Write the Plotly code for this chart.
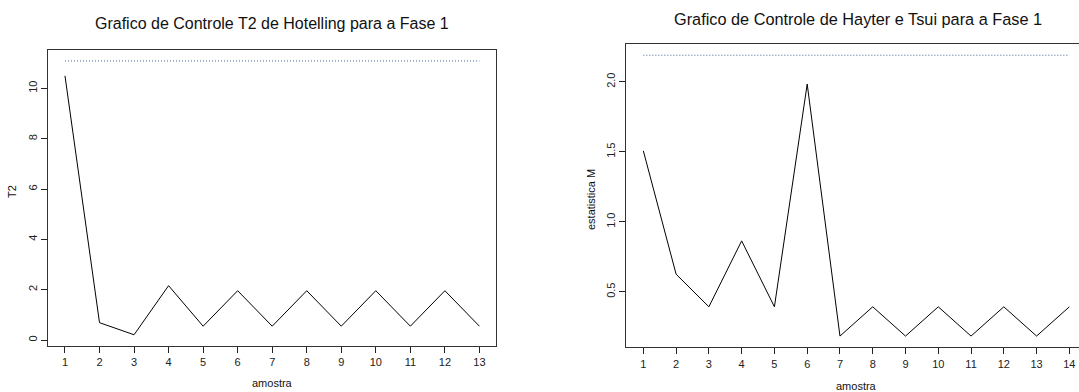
import plotly.graph_objects as go

# ---- data ----
amostra_t2 = list(range(1, 14))
t2_values = [10.50, 0.69, 0.21, 2.16, 0.55, 1.96, 0.55, 1.96, 0.55, 1.96, 0.55, 1.96, 0.55]
t2_ucl = 11.09

amostra_m = list(range(1, 15))
m_values = [1.507, 0.626, 0.393, 0.864, 0.393, 1.984, 0.184, 0.393, 0.184, 0.393, 0.184, 0.393, 0.184, 0.393]
m_ucl = 2.19

title_left = "Grafico de Controle T2 de Hotelling para a Fase 1"
title_right = "Grafico de Controle de Hayter e Tsui para a Fase 1"
xlabel = "amostra"
ylabel_left = "T2"
ylabel_right = "estatistica M"

FONT = "Liberation Sans, Arial, sans-serif"
W, H = 1079, 392

fig = go.Figure()

DOT = dict(color="#3f5f8f", width=1, dash="1px,2px")

# left chart
fig.add_trace(go.Scatter(x=amostra_t2, y=t2_values, mode="lines",
                         line=dict(color="black", width=1), xaxis="x", yaxis="y",
                         showlegend=False, hoverinfo="skip"))
fig.add_trace(go.Scatter(x=[amostra_t2[0], amostra_t2[-1]], y=[t2_ucl, t2_ucl], mode="lines",
                         line=DOT, xaxis="x", yaxis="y",
                         showlegend=False, hoverinfo="skip"))
# right chart
fig.add_trace(go.Scatter(x=amostra_m, y=m_values, mode="lines",
                         line=dict(color="black", width=1), xaxis="x2", yaxis="y2",
                         showlegend=False, hoverinfo="skip"))
fig.add_trace(go.Scatter(x=[amostra_m[0], amostra_m[-1]], y=[m_ucl, m_ucl], mode="lines",
                         line=DOT, xaxis="x2", yaxis="y2",
                         showlegend=False, hoverinfo="skip"))

def px_x(p):
    return p / W

def px_y(p):
    return 1 - p / H

axis_common = dict(showgrid=False, zeroline=False, ticks="outside", ticklen=6,
                   tickcolor="#222", tickwidth=1, showline=True, linecolor="#333",
                   linewidth=1.3, tickfont=dict(family=FONT, size=11, color="#222"))

# left box: x 48.4..496 px, y 50..345.7 px
t2_min = min(t2_values)
t2_span = t2_ucl - t2_min
fig.update_layout(
    xaxis=dict(domain=[px_x(48.4), px_x(496)], range=[0.52, 13.48], dtick=1, tick0=1,
               mirror=True, anchor="y", **axis_common),
    yaxis=dict(domain=[px_y(345.7), px_y(50)],
               range=[t2_min - 0.04 * t2_span, t2_ucl + 0.04 * t2_span],
               dtick=2, tick0=0, tickangle=-90, mirror=True, anchor="x", **axis_common),
)

m_min = min(m_values)
m_span = m_ucl - m_min
fig.update_layout(
    xaxis2=dict(domain=[px_x(626.3), 1.0], range=[0.48, 0.48 + (W - 626.3) / 32.77],
                dtick=1, tick0=1, mirror=True, anchor="y2", **axis_common),
    yaxis2=dict(domain=[px_y(347.3), px_y(44)],
                range=[m_min - 0.04 * m_span, m_ucl + 0.04 * m_span],
                dtick=0.5, tick0=0.5, tickformat=".1f", tickangle=-90, mirror=False,
                anchor="x2", **axis_common),
)

ann = []
def text(s, x, y, size, angle=0):
    ann.append(dict(text=s, x=px_x(x), y=px_y(y), xref="paper", yref="paper",
                    showarrow=False, xanchor="center", yanchor="middle", textangle=angle,
                    font=dict(family=FONT, size=size, color="#111")))

text(title_left, 272, 24, 16)
text(title_right, 858, 19, 16.3)
text(xlabel, 272, 383, 11)
text(xlabel, 856, 386, 11)
text(ylabel_left, 12, 192, 11, -90)
text(ylabel_right, 591, 200, 11, -90)

fig.update_layout(width=W, height=H, margin=dict(l=0, r=0, t=0, b=0),
                  paper_bgcolor="white", plot_bgcolor="white", annotations=ann,
                  showlegend=False)

fig.write_html("out.html", config={"displayModeBar": False},
               post_script="document.body.style.margin='0';document.body.style.padding='0';")
